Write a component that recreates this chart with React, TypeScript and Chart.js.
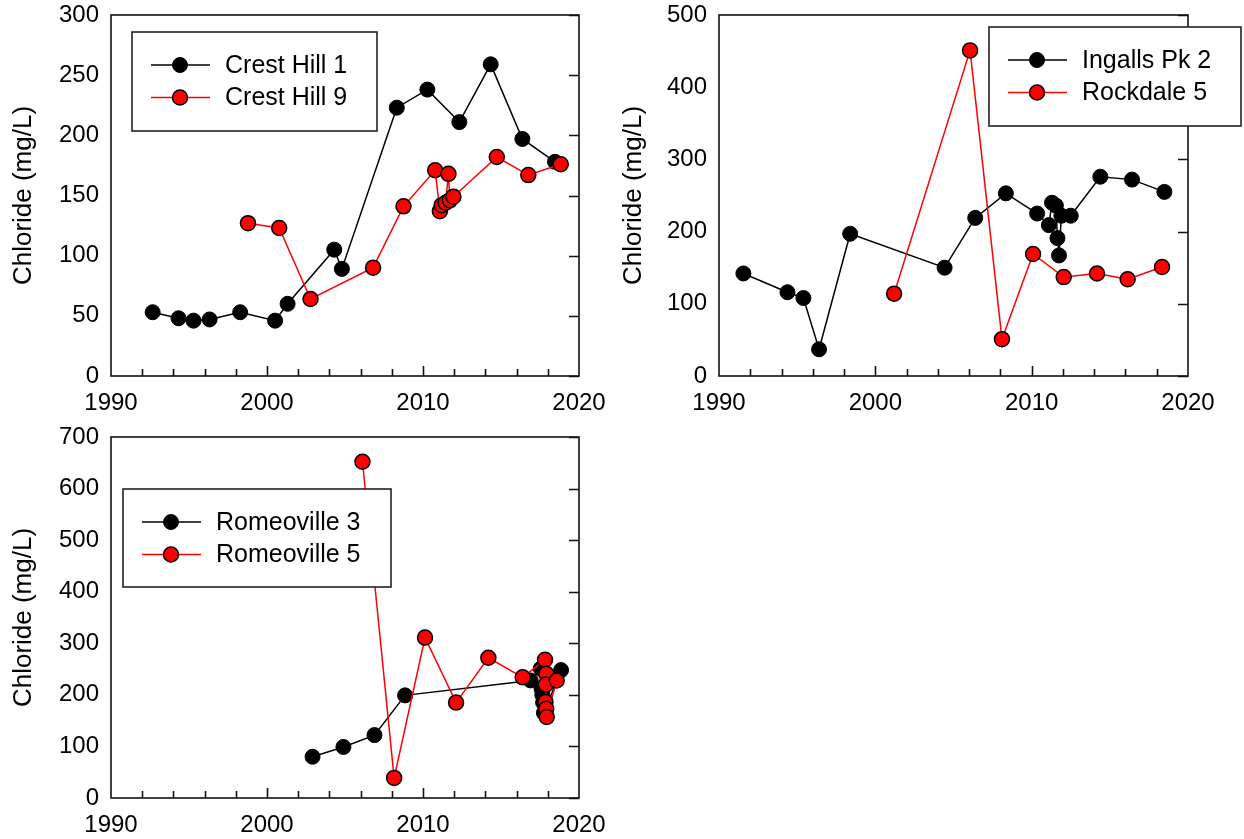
import React, { useEffect, useRef } from 'react';
import { Chart, registerables } from 'chart.js';

Chart.register(...registerables);

const FONT = "'Liberation Sans', Arial, Helvetica, sans-serif";

// ---- Shared axis ticks ----
const xTickYears = [1990, 2000, 2010, 2020];
const yTicksCrestHill = [0, 50, 100, 150, 200, 250, 300];
const yTicksIngalls = [0, 100, 200, 300, 400, 500];
const yTicksRomeoville = [0, 100, 200, 300, 400, 500, 600, 700];

// ---- Panel 1: Crest Hill ----
const crestHill1Years = [1992.67, 1994.33, 1995.29, 1996.32, 1998.28, 2000.52, 2001.32, 2004.31, 2004.8, 2008.32, 2010.28, 2012.33, 2014.34, 2016.37, 2018.46];
const crestHill1Chloride = [53, 48, 46, 47, 53, 46, 60, 105, 89, 223, 238, 211, 259, 197, 178];
const crestHill9Years = [1998.78, 2000.78, 2002.79, 2006.8, 2008.75, 2010.78, 2011.08, 2011.2, 2011.45, 2011.63, 2011.72, 2011.95, 2014.73, 2016.75, 2018.83];
const crestHill9Chloride = [127, 123, 64, 90, 141, 171, 137, 142, 144, 168, 146, 149, 182, 167, 176];

// ---- Panel 2: Ingalls Pk 2 / Rockdale 5 ----
const ingallsYears = [1991.56, 1994.38, 1995.4, 1996.4, 1998.39, 2004.43, 2006.39, 2008.35, 2010.35, 2011.1, 2011.3, 2011.55, 2011.65, 2011.75, 2011.9, 2012.5, 2014.39, 2016.42, 2018.49];
const ingallsChloride = [142, 116, 108, 37, 197, 150, 219, 253, 225, 209, 240, 236, 191, 167, 222, 222, 276, 272, 255];
const rockdaleYears = [2001.2, 2006.06, 2008.1, 2010.09, 2012.05, 2014.18, 2016.14, 2018.34];
const rockdaleChloride = [114, 451, 51, 169, 137, 142, 134, 151];

// ---- Panel 3: Romeoville ----
const romeoville3Years = [2002.92, 2004.9, 2006.89, 2008.85, 2016.9, 2017.55, 2017.6, 2017.65, 2017.7, 2017.75, 2018.85];
const romeoville3Chloride = [80, 99, 122, 199, 228, 251, 212, 200, 185, 165, 248];
const romeoville5Years = [2006.12, 2008.15, 2010.13, 2012.12, 2014.19, 2016.39, 2017.82, 2017.9, 2017.87, 2017.85, 2017.9, 2017.93, 2018.57];
const romeoville5Chloride = [652, 39, 311, 185, 272, 234, 268, 241, 220, 186, 173, 157, 228];

const toPoints = (xs: number[], ys: number[]) => xs.map((x, i) => ({ x, y: ys[i] }));

const blackSeries = (label: string, xs: number[], ys: number[]) => ({
  label,
  data: toPoints(xs, ys),
  showLine: true,
  borderColor: '#000000',
  borderWidth: 1.5,
  pointRadius: 7.5,
  pointBackgroundColor: '#000000',
  pointBorderColor: '#000000',
  pointBorderWidth: 1,
  order: 2,
});

const redSeries = (label: string, xs: number[], ys: number[]) => ({
  label,
  data: toPoints(xs, ys),
  showLine: true,
  borderColor: '#ff0000',
  borderWidth: 1.5,
  pointRadius: 7.5,
  pointBackgroundColor: '#ff0000',
  pointBorderColor: '#000000',
  pointBorderWidth: 1.5,
  order: 1,
});

type PanelProps = {
  left: number;
  top: number;
  width: number;
  height: number;
  pad: { left: number; top: number; right: number; bottom: number };
  yAxisWidth: number;
  xAxisHeight: number;
  yMax: number;
  yTicks: number[];
  datasets: any[];
  legendBox: { x: number; y: number; w: number; h: number };
};

function Panel(p: PanelProps) {
  const ref = useRef<HTMLCanvasElement>(null);
  useEffect(() => {
    if (!ref.current) return;
    const framePlugin = {
      id: 'frameTicks',
      beforeDatasetsDraw(chart: any) {
        const { ctx, chartArea: a, scales } = chart;
        const xs = scales.x;
        const ys = scales.y;
        ctx.save();
        ctx.strokeStyle = '#111111';
        ctx.lineWidth = 1.6;
        ctx.strokeRect(a.left, a.top, a.right - a.left, a.bottom - a.top);
        ctx.beginPath();
        for (let yr = 1992; yr < 2020; yr += 2) {
          const px = Math.round(xs.getPixelForValue(yr)) + 0.5;
          const len = yr % 10 === 0 ? 10 : 7;
          ctx.moveTo(px, a.bottom);
          ctx.lineTo(px, a.bottom - len);
        }
        ys.ticks.forEach((t: any) => {
          const py = Math.round(ys.getPixelForValue(t.value)) + 0.5;
          ctx.moveTo(a.right, py);
          ctx.lineTo(a.right - 10, py);
        });
        ctx.stroke();
        ctx.restore();
      },
    };
    const lb = p.legendBox;
    const legendPlugin = {
      id: 'boxLegend',
      afterDatasetsDraw(chart: any) {
        const { ctx } = chart;
        ctx.save();
        ctx.fillStyle = '#ffffff';
        ctx.fillRect(lb.x, lb.y, lb.w, lb.h);
        ctx.strokeStyle = '#222222';
        ctx.lineWidth = 1.6;
        ctx.strokeRect(lb.x, lb.y, lb.w, lb.h);
        chart.data.datasets.forEach((ds: any, i: number) => {
          const ry = lb.y + 33 + i * 32.5;
          ctx.strokeStyle = ds.borderColor;
          ctx.lineWidth = ds.borderWidth;
          ctx.beginPath();
          ctx.moveTo(lb.x + 19, ry);
          ctx.lineTo(lb.x + 78, ry);
          ctx.stroke();
          ctx.beginPath();
          ctx.arc(lb.x + 48, ry, ds.pointRadius, 0, Math.PI * 2);
          ctx.fillStyle = ds.pointBackgroundColor;
          ctx.fill();
          ctx.lineWidth = ds.pointBorderWidth;
          ctx.strokeStyle = ds.pointBorderColor;
          ctx.stroke();
          ctx.fillStyle = '#000000';
          ctx.font = `25px ${FONT}`;
          ctx.textBaseline = 'middle';
          ctx.textAlign = 'left';
          ctx.fillText(ds.label, lb.x + 93, ry + 1);
        });
        ctx.restore();
      },
    };
    const chart = new Chart(ref.current, {
      type: 'scatter',
      data: { datasets: p.datasets },
      options: {
        animation: false,
        responsive: false,
        maintainAspectRatio: false,
        events: [],
        layout: { padding: p.pad },
        plugins: { legend: { display: false }, tooltip: { enabled: false } },
        scales: {
          x: {
            type: 'linear',
            min: 1990,
            max: 2020,
            afterBuildTicks: (s: any) => {
              s.ticks = xTickYears.map((v) => ({ value: v }));
            },
            afterFit: (s: any) => {
              s.height = p.xAxisHeight;
              s.paddingLeft = 0;
              s.paddingRight = 0;
              s.paddingTop = 0;
              s.paddingBottom = 0;
            },
            ticks: {
              autoSkip: false,
              maxRotation: 0,
              padding: 13,
              color: '#000000',
              font: { family: FONT, size: 24 },
              callback: (v: any) => String(v),
            },
            grid: { display: false, drawTicks: false },
            border: { display: false },
          },
          y: {
            type: 'linear',
            min: 0,
            max: p.yMax,
            afterBuildTicks: (s: any) => {
              s.ticks = p.yTicks.map((v) => ({ value: v }));
            },
            afterFit: (s: any) => {
              s.width = p.yAxisWidth;
              s.paddingLeft = 0;
              s.paddingRight = 0;
              s.paddingTop = 0;
              s.paddingBottom = 0;
            },
            ticks: {
              padding: 12,
              color: '#000000',
              font: { family: FONT, size: 24 },
              callback: (v: any) => String(v),
            },
            grid: { display: false, drawTicks: false },
            border: { display: false },
            title: {
              display: true,
              text: 'Chloride (mg/L)',
              color: '#000000',
              font: { family: FONT, size: 26 },
              padding: { top: 8, bottom: 0 },
            },
          },
        },
      },
      plugins: [framePlugin, legendPlugin],
    } as any);
    return () => chart.destroy();
  }, []);
  return (
    <canvas
      ref={ref}
      width={p.width}
      height={p.height}
      style={{ position: 'absolute', left: p.left, top: p.top, width: p.width, height: p.height }}
    />
  );
}

export default function App() {
  return (
    <div style={{ position: 'absolute', left: 0, top: 0, width: 1244, height: 839, background: '#ffffff', overflow: 'hidden' }}>
      <Panel
        left={0}
        top={0}
        width={620}
        height={420}
        pad={{ left: 0, top: 15, right: 41, bottom: 0 }}
        yAxisWidth={111}
        xAxisHeight={44}
        yMax={300}
        yTicks={yTicksCrestHill}
        datasets={[
          blackSeries('Crest Hill 1', crestHill1Years, crestHill1Chloride),
          redSeries('Crest Hill 9', crestHill9Years, crestHill9Chloride),
        ]}
        legendBox={{ x: 132, y: 32, w: 245, h: 99 }}
      />
      <Panel
        left={610}
        top={0}
        width={634}
        height={420}
        pad={{ left: 0, top: 15, right: 56, bottom: 0 }}
        yAxisWidth={109}
        xAxisHeight={44}
        yMax={500}
        yTicks={yTicksIngalls}
        datasets={[
          blackSeries('Ingalls Pk 2', ingallsYears, ingallsChloride),
          redSeries('Rockdale 5', rockdaleYears, rockdaleChloride),
        ]}
        legendBox={{ x: 379, y: 27, w: 252, h: 99 }}
      />
      <Panel
        left={0}
        top={420}
        width={620}
        height={419}
        pad={{ left: 0, top: 17, right: 41, bottom: 0 }}
        yAxisWidth={111}
        xAxisHeight={41}
        yMax={700}
        yTicks={yTicksRomeoville}
        datasets={[
          blackSeries('Romeoville 3', romeoville3Years, romeoville3Chloride),
          redSeries('Romeoville 5', romeoville5Years, romeoville5Chloride),
        ]}
        legendBox={{ x: 123, y: 69, w: 268, h: 98 }}
      />
    </div>
  );
}
